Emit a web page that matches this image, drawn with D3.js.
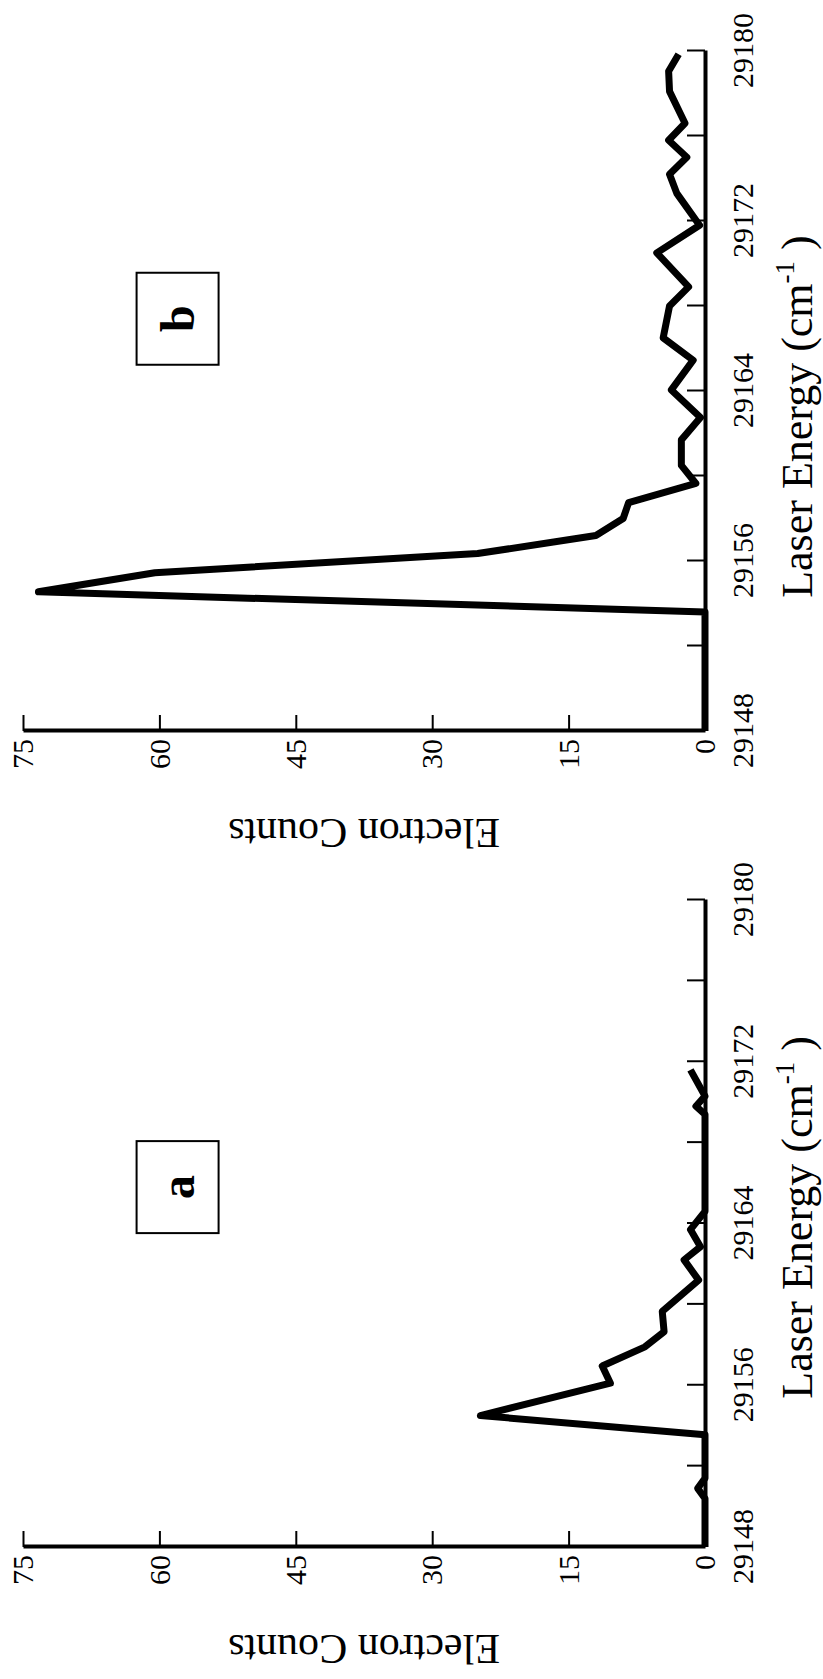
<!DOCTYPE html>
<html>
<head>
<meta charset="utf-8">
<script src="https://cdn.jsdelivr.net/npm/d3@7"></script>
<style>
  html, body { margin: 0; padding: 0; background: #fff; }
  svg { display: block; }
</style>
</head>
<body>
<script>
// Electron counts against laser energy for two scans (a, b).
// The figure is laid out in landscape and then turned a quarter turn
// counter-clockwise onto the portrait page.

const energyA = [29148, 29150.4, 29150.9, 29151.4, 29153.55, 29154.5, 29156.1, 29156.95,
                 29157.9, 29158.65, 29159.65, 29161.2, 29162.2, 29162.85, 29163.7, 29164.6,
                 29166.0, 29168.0, 29169.4, 29169.8, 29170.3, 29171.6];
const countsA = [0, 0, 0.8, 0, 0, 24.7, 10.4, 11.3,
                 6.6, 4.5, 4.7, 0.7, 2.3, 0.5, 1.6, 0,
                 0, 0, 0, 1.0, 0, 1.6];

const energyB = [29148, 29153.6, 29154.55, 29155.45, 29156.35, 29157.2, 29158.0, 29158.75,
                 29159.65, 29160.5, 29161.7, 29162.75, 29164.05, 29165.45, 29166.5, 29168.0,
                 29168.9, 29170.5, 29171.8, 29173.3, 29174.2, 29175.0, 29175.8, 29176.6,
                 29178.1, 29179.05, 29179.85];
const countsB = [0, 0, 73.3, 60.5, 25, 12, 9, 8.4,
                 1.0, 2.6, 2.6, 0.5, 3.7, 1.3, 4.6, 3.9,
                 1.8, 5.3, 0.6, 3.1, 3.9, 2.0, 4.0, 2.2,
                 3.9, 4.0, 2.9];

const energyTicks  = [29148, 29152, 29156, 29160, 29164, 29168, 29172, 29176, 29180];
const energyLabels = [29148, 29156, 29164, 29172, 29180];
const countTicks   = [0, 15, 30, 45, 60, 75];
const panelLetters = ["a", "b"];
const xTitle = "Laser Energy (cm";
const xTitleSup = "-1";
const yTitle = "Electron Counts";

const pageW = 823, pageH = 1679;
const serif = "'Liberation Serif', 'Times New Roman', serif";

const svg = d3.select("body").append("svg")
  .attr("width", pageW).attr("height", pageH);

// Landscape frame: horizontal extent pageH, vertical extent pageW.
const frame = svg.append("g")
  .attr("transform", `translate(0,${pageH}) rotate(-90)`);

const y = d3.scaleLinear().domain([0, 75]).range([705, 23]);

const panels = [
  { letter: panelLetters[0], energy: energyA, counts: countsA, range: [132, 779], box: 29165.8, title: 29164.3 },
  { letter: panelLetters[1], energy: energyB, counts: countsB, range: [948, 1628], box: 29167.4, title: 29162.8 }
];

panels.forEach(p => {
  const x = d3.scaleLinear().domain([29148, 29180]).range(p.range);
  const g = frame.append("g");

  // data trace
  const pts = p.energy.map((e, i) => [e, p.counts[i]]);
  g.append("path")
    .datum(pts)
    .attr("fill", "none")
    .attr("stroke", "#000")
    .attr("stroke-width", 7)
    .attr("stroke-linejoin", "round")
    .attr("d", d3.line().x(d => x(d[0])).y(d => y(d[1])));

  // energy axis
  const gx = g.append("g")
    .attr("transform", `translate(0,${y(0)})`)
    .call(d3.axisBottom(x)
      .tickValues(energyTicks)
      .tickSizeInner(-18).tickSizeOuter(0)
      .tickPadding(27)
      .tickFormat(d => energyLabels.includes(d) ? String(d) : ""));

  // count axis
  const gy = g.append("g")
    .attr("transform", `translate(${x(29148)},0)`)
    .call(d3.axisLeft(y)
      .tickValues(countTicks)
      .tickSizeInner(-16).tickSizeOuter(0)
      .tickPadding(8)
      .tickFormat(d3.format("d")));

  [gx, gy].forEach(a => {
    a.attr("font-family", serif).attr("font-size", 30);
    a.select(".domain").attr("stroke", "#000").attr("stroke-width", 4);
    a.selectAll(".tick line").attr("stroke", "#000").attr("stroke-width", 2);
    a.selectAll(".tick text").attr("fill", "#000");
  });
  gy.selectAll(".tick").filter(d => d === 0).select("line").remove();

  // energy axis title
  const t = g.append("text")
    .attr("x", x(p.title))
    .attr("y", 812)
    .attr("text-anchor", "middle")
    .attr("font-family", serif)
    .attr("font-size", 44)
    .attr("fill", "#000");
  t.append("tspan").text(xTitle);
  t.append("tspan").attr("font-size", 27).attr("dy", -18).text(xTitleSup);
  t.append("tspan").attr("dy", 18).text(" )");

  // count axis title
  g.append("text")
    .attr("transform", `translate(${p.range[0] - 88},${y(37.5)}) rotate(-90)`)
    .attr("text-anchor", "middle")
    .attr("font-family", serif)
    .attr("font-size", 42)
    .attr("fill", "#000")
    .text(yTitle);

  // panel letter in a box
  const bw = 92, bh = 82;
  const bx = x(p.box), by = y(58);
  g.append("rect")
    .attr("x", bx - bw / 2).attr("y", by - bh / 2)
    .attr("width", bw).attr("height", bh)
    .attr("fill", "none").attr("stroke", "#000").attr("stroke-width", 2);
  g.append("text")
    .attr("x", bx).attr("y", by)
    .attr("dy", "0.35em")
    .attr("text-anchor", "middle")
    .attr("font-family", serif)
    .attr("font-weight", "bold")
    .attr("font-size", 48)
    .attr("fill", "#000")
    .text(p.letter);
});
</script>
</body>
</html>
